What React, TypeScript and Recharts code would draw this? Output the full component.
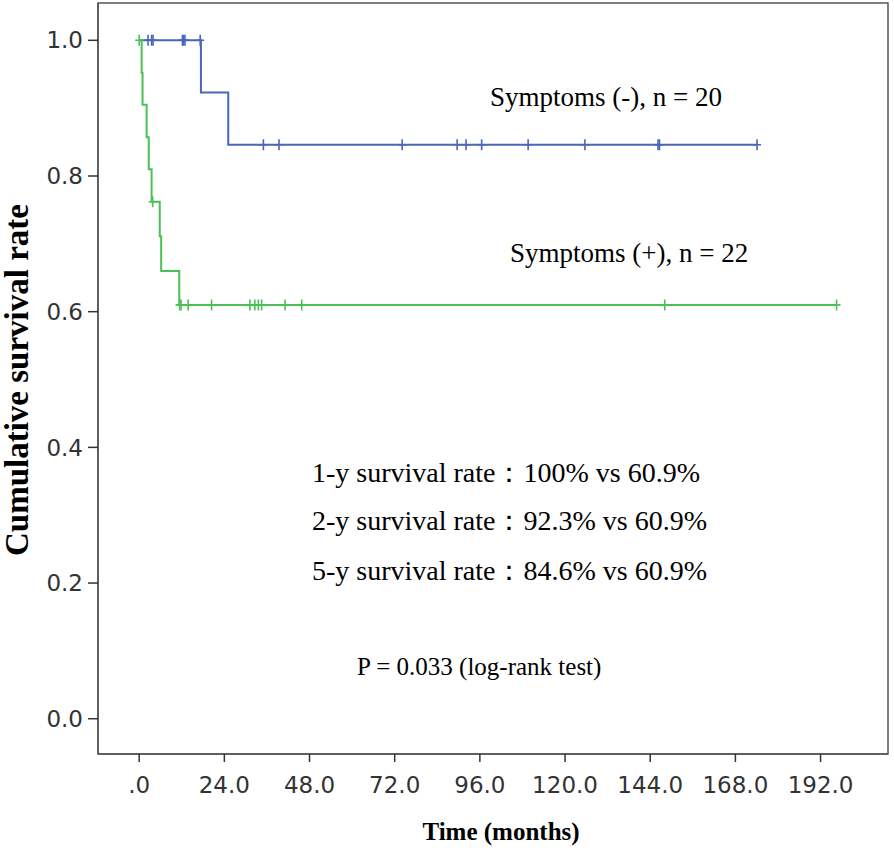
import {
  ComposedChart,
  Line,
  ReferenceArea,
  Scatter,
  XAxis,
  YAxis,
} from "recharts";

const xTicks = [0, 24, 48, 72, 96, 120, 144, 168, 192];
const yTicks = [0, 0.2, 0.4, 0.6, 0.8, 1.0];

const X_DOMAIN = [-11.6, 211];
const Y_DOMAIN = [-0.052, 1.055];

// Kaplan-Meier steps: time in months, cumulative survival
const negSteps = [
  { t: 0, s: 1 },
  { t: 17.4, s: 0.923 },
  { t: 25.1, s: 0.846 },
  { t: 174.1, s: 0.846 },
];

const posSteps = [
  { t: 0, s: 1 },
  { t: 0.7, s: 0.952 },
  { t: 0.95, s: 0.905 },
  { t: 2.1, s: 0.857 },
  { t: 2.7, s: 0.81 },
  { t: 3.5, s: 0.762 },
  { t: 5.8, s: 0.711 },
  { t: 6.2, s: 0.66 },
  { t: 11.3, s: 0.61 },
  { t: 196.5, s: 0.61 },
];

// censored cases (months)
const negCensored = [
  2.5, 3.5, 3.9, 12.2, 12.5, 12.9, 17.2, 35.0, 39.4, 74.1, 89.6, 92.1, 96.5,
  109.6, 125.6, 146.2, 146.6, 174.1,
];
const posCensored = [
  0, 3.8, 11.4, 11.8, 13.8, 20.4, 31.2, 32.6, 33.6, 34.5, 41.1, 45.8, 148.1,
  196.5,
];

const NEG_COLOR = "#4a66bb";
const POS_COLOR = "#4cbf55";

const levelAt = (steps: { t: number; s: number }[], t: number) => {
  let s = steps[0].s;
  for (const p of steps) if (p.t <= t) s = p.s;
  return s;
};

const negMarks = negCensored.map((t) => ({ t, s: levelAt(negSteps, t) }));
const posMarks = posCensored.map((t) => ({ t, s: levelAt(posSteps, t) }));

const CensorMark = (props: any) => {
  const { cx, cy, fill } = props;
  if (cx == null || cy == null) return null;
  return (
    <path
      d={`M${cx - 4},${cy} H${cx + 4} M${cx},${cy - 5.5} V${cy + 5.5}`}
      stroke={fill}
      strokeWidth={1.6}
      fill="none"
    />
  );
};

const tickStyle = { fontSize: 23, fill: "#333", fontFamily: "DejaVu Sans" };
const serif = "'Liberation Serif', 'Times New Roman', serif";

export default function App() {
  return (
    <div style={{ position: "absolute", left: 0, top: 0, width: 894, height: 850, background: "#fff" }}>
      <ComposedChart
        width={894}
        height={850}
        margin={{ top: 3, right: 6, bottom: 36, left: 38 }}
      >
        <XAxis
          type="number"
          dataKey="t"
          domain={X_DOMAIN}
          allowDataOverflow
          ticks={xTicks}
          tickFormatter={(v: number) => (v === 0 ? ".0" : v.toFixed(1))}
          tick={tickStyle}
          tickSize={8}
          tickMargin={15}
          height={60}
          axisLine={{ stroke: "#555", strokeWidth: 1.5 }}
          tickLine={{ stroke: "#333", strokeWidth: 1.5 }}
          interval={0}
        />
        <YAxis
          type="number"
          domain={Y_DOMAIN}
          allowDataOverflow
          ticks={yTicks}
          tickFormatter={(v: number) => v.toFixed(1)}
          tick={tickStyle}
          tickSize={10}
          tickMargin={5}
          width={60}
          axisLine={{ stroke: "#555", strokeWidth: 1.5 }}
          tickLine={{ stroke: "#333", strokeWidth: 1.5 }}
          interval={0}
        />
        <ReferenceArea
          x1={X_DOMAIN[0]}
          x2={X_DOMAIN[1]}
          y1={Y_DOMAIN[0]}
          y2={Y_DOMAIN[1]}
          fill="#fff"
          fillOpacity={0}
          stroke="#555"
          strokeWidth={1.5}
          ifOverflow="visible"
        />
        <Line
          data={negSteps}
          dataKey="s"
          type="stepAfter"
          stroke={NEG_COLOR}
          strokeWidth={2}
          dot={false}
          isAnimationActive={false}
        />
        <Line
          data={posSteps}
          dataKey="s"
          type="stepAfter"
          stroke={POS_COLOR}
          strokeWidth={2}
          dot={false}
          isAnimationActive={false}
        />
        <Scatter
          data={negMarks}
          dataKey="s"
          fill={NEG_COLOR}
          shape={CensorMark}
          isAnimationActive={false}
        />
        <Scatter
          data={posMarks}
          dataKey="s"
          fill={POS_COLOR}
          shape={CensorMark}
          isAnimationActive={false}
        />
      </ComposedChart>
      <svg
        width={894}
        height={850}
        style={{ position: "absolute", left: 0, top: 0, pointerEvents: "none" }}
      >
        <g fontFamily={serif} fill="#000">
          <text x={490} y={106} fontSize={27}>Symptoms (-), n = 20</text>
          <text x={510} y={262} fontSize={27}>Symptoms (+), n = 22</text>
          <text x={312} y={482} fontSize={28}>1-y survival rate：100% vs 60.9%</text>
          <text x={312} y={530} fontSize={28}>2-y survival rate：92.3% vs 60.9%</text>
          <text x={312} y={580} fontSize={28}>5-y survival rate：84.6% vs 60.9%</text>
          <text x={357} y={675} fontSize={25}>P = 0.033 (log-rank test)</text>
        </g>
        <text
          x={501}
          y={840}
          textAnchor="middle"
          fontFamily={serif}
          fontWeight="bold"
          fontSize={25}
        >
          Time (months)
        </text>
        <text
          transform="translate(28,380) rotate(-90)"
          textAnchor="middle"
          fontFamily={serif}
          fontWeight="bold"
          fontSize={33}
        >
          Cumulative survival rate
        </text>
      </svg>
    </div>
  );
}
